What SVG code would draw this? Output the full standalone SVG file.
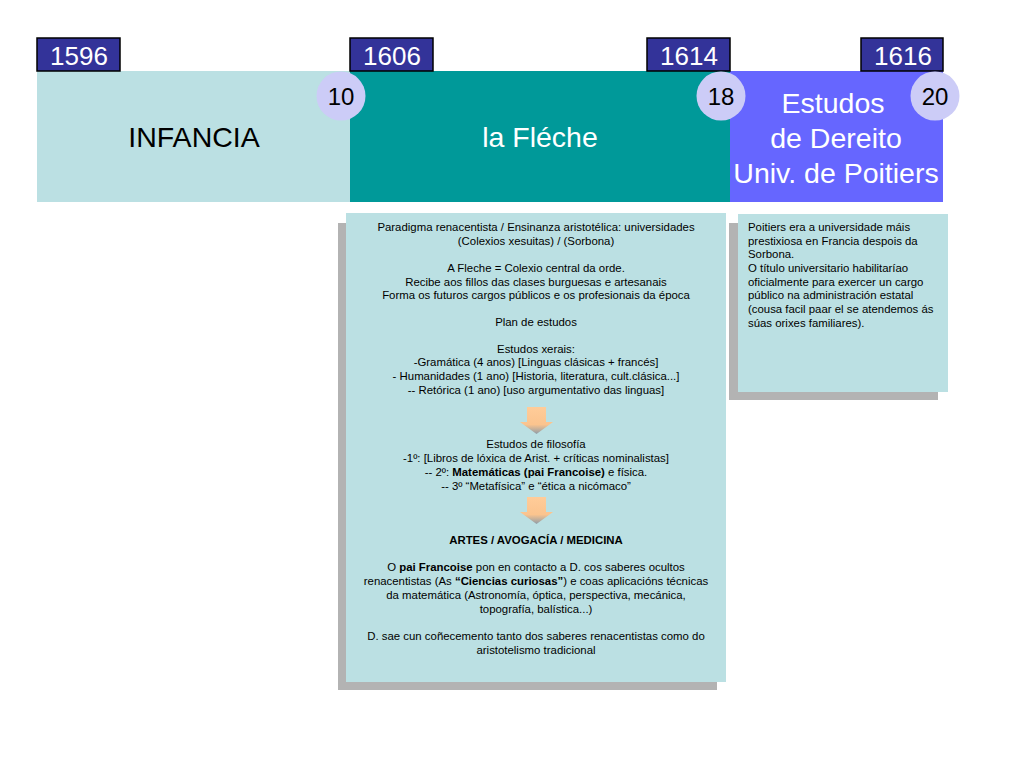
<svg xmlns="http://www.w3.org/2000/svg" width="1024" height="768" viewBox="0 0 1024 768">
<defs>
<style>
.year{fill:#333399;stroke:#000;stroke-width:1.5}
.yeart{font-family:"Liberation Sans",Arial,sans-serif;font-size:26px;fill:#fff;text-anchor:middle}
.age{fill:#CCCCF7}
.aget{font-family:"Liberation Sans",Arial,sans-serif;font-size:24px;fill:#000;text-anchor:middle}
.band{font-family:"Liberation Sans",Arial,sans-serif;font-size:28.5px;text-anchor:middle}
.box{fill:#BBE0E3}
.shadow{fill:#B3B3B3}
.small{font-family:"Liberation Sans",Arial,sans-serif;font-size:11.4px;fill:#000}
.mid{text-anchor:middle}
.b{font-weight:bold}
.arr{fill:url(#ag)}
</style>
<linearGradient id="ag" x1="0" y1="0" x2="0" y2="1">
<stop offset="0" stop-color="#FFCC99"/>
<stop offset="0.65" stop-color="#FBC48E"/>
<stop offset="1" stop-color="#8E9CA8"/>
</linearGradient>
</defs>
<rect width="1024" height="768" fill="#fff"/>

<g id="band-infancia">
<rect x="37" y="71" width="313" height="131" fill="#BBE0E3"/>
<text class="band" x="194" y="147" fill="#000">INFANCIA</text>
</g>
<g id="band-lafleche">
<rect x="350" y="71" width="380" height="131" fill="#009999"/>
<text class="band" x="540" y="147" fill="#fff">la Fléche</text>
</g>
<g id="band-poitiers">
<rect x="730" y="71" width="213" height="131" fill="#6666FF"/>
<text class="band" x="833" y="113" fill="#fff">Estudos</text>
<text class="band" x="836" y="148" fill="#fff">de Dereito</text>
<text class="band" x="836" y="183" fill="#fff">Univ. de Poitiers</text>
</g>

<g id="year-1596"><rect class="year" x="37" y="38" width="83" height="33"/><text class="yeart" x="79" y="65">1596</text></g>
<g id="year-1606"><rect class="year" x="350" y="38" width="83" height="33"/><text class="yeart" x="392" y="65">1606</text></g>
<g id="year-1614"><rect class="year" x="647" y="38" width="83" height="33"/><text class="yeart" x="689" y="65">1614</text></g>
<g id="year-1616"><rect class="year" x="861" y="38" width="82" height="33"/><text class="yeart" x="903" y="65">1616</text></g>

<g id="age-10"><circle class="age" cx="341" cy="96" r="24.5"/><text class="aget" x="341" y="105">10</text></g>
<g id="age-18"><circle class="age" cx="721" cy="96" r="24.5"/><text class="aget" x="721" y="105">18</text></g>
<g id="age-20"><circle class="age" cx="935" cy="96" r="24.5"/><text class="aget" x="935" y="105">20</text></g>

<g id="note-lafleche">
<rect class="shadow" x="338" y="223" width="379" height="467"/>
<rect class="box" x="346" y="213" width="380" height="469"/>
<g class="small mid">
<text x="536" y="231">Paradigma renacentista / Ensinanza aristotélica: universidades</text>
<text x="536" y="245">(Colexios xesuitas) / (Sorbona)</text>
<text x="536" y="272">A Fleche = Colexio central da orde.</text>
<text x="536" y="286">Recibe aos fillos das clases burguesas e artesanais</text>
<text x="536" y="299">Forma os futuros cargos públicos e os profesionais da época</text>
<text x="536" y="326">Plan de estudos</text>
<text x="536" y="353">Estudos xerais:</text>
<text x="536" y="366">-Gramática (4 anos) [Linguas clásicas + francés]</text>
<text x="536" y="380">- Humanidades (1 ano) [Historia, literatura, cult.clásica...]</text>
<text x="536" y="394">-- Retórica (1 ano) [uso argumentativo das linguas]</text>
<text x="536" y="448">Estudos de filosofía</text>
<text x="536" y="462">-1º: [Libros de lóxica de Arist. + críticas nominalistas]</text>
<text x="536" y="476">-- 2º: <tspan class="b">Matemáticas (pai Francoise)</tspan> e física.</text>
<text x="536" y="490">-- 3º “Metafísica” e “ética a nicómaco”</text>
<text x="536" y="544" class="b">ARTES / AVOGACÍA / MEDICINA</text>
<text x="536" y="571">O <tspan class="b">pai Francoise</tspan> pon en contacto a D. cos saberes ocultos</text>
<text x="536" y="585">renacentistas (As <tspan class="b">“Ciencias curiosas”</tspan>) e coas aplicacións técnicas</text>
<text x="536" y="599">da matemática (Astronomía, óptica, perspectiva, mecánica,</text>
<text x="536" y="613">topografía, balística...)</text>
<text x="536" y="640">D. sae cun coñecemento tanto dos saberes renacentistas como do</text>
<text x="536" y="654">aristotelismo tradicional</text>
</g>
<g id="flow-arrows">
<polygon class="arr" points="527,407 546,407 546,422 553,422 536.5,434 520,422 527,422"/>
<polygon class="arr" points="527,497 546,497 546,512 553,512 536.5,524 520,512 527,512"/>
</g>
</g>

<g id="note-poitiers">
<rect class="shadow" x="729" y="223" width="209" height="177"/>
<rect class="box" x="738" y="214" width="210" height="178"/>
<g class="small">
<text x="748" y="231">Poitiers era a universidade máis</text>
<text x="748" y="245">prestixiosa en Francia despois da</text>
<text x="748" y="258">Sorbona.</text>
<text x="748" y="272">O título universitario habilitaríao</text>
<text x="748" y="286">oficialmente para exercer un cargo</text>
<text x="748" y="299">público na administración estatal</text>
<text x="748" y="313">(cousa facil paar el se atendemos ás</text>
<text x="748" y="327">súas orixes familiares).</text>
</g>
</g>
<g id="connectors"/>
</svg>
